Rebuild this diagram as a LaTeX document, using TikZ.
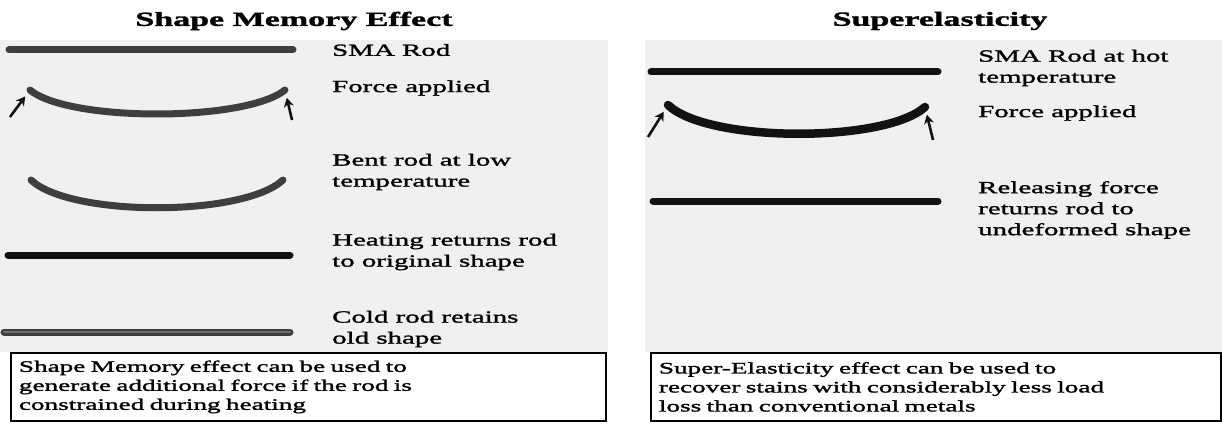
\documentclass[tikz,border=0pt]{standalone}
\usepackage{fontspec}
\setmainfont{Liberation Serif}[FakeStretch=1.7]
\newfontfamily\rodfont{Liberation Serif}[FakeStretch=1.7, FakeBold=1.6]
\usepackage{xcolor}
\usetikzlibrary{arrows.meta}
\definecolor{rodgray}{RGB}{62,62,62}
\definecolor{roddark}{RGB}{18,18,18}
\definecolor{coldcore}{RGB}{112,112,112}
\definecolor{panelbg}{RGB}{240,240,240}
\tikzset{
  rod/.style={line width=7pt, line cap=round, color=rodgray},
  rodhot/.style={rod, color=roddark},
  push/.style={-{Stealth[length=9pt,width=10pt]}, line width=2.6pt, color=roddark,
               shorten >=8pt},
  paneltitle/.style={font=\rodfont\bfseries\fontsize{20}{24}\selectfont, inner sep=0pt},
  rodlabel/.style={anchor=west, align=left, inner sep=0pt,
                   font=\rodfont\fontsize{17}{21}\selectfont},
  notebox/.style={draw=black, line width=1.8pt, fill=white, anchor=north west,
                  align=left, inner xsep=8pt, inner ysep=3pt,
                  font=\rodfont\fontsize{16}{19}\selectfont},
}
\begin{document}
\begin{tikzpicture}[x=1pt, y=-1pt]
  \useasboundingbox (0,0) rectangle (1222,425);
  % panel backgrounds
  \fill[panelbg] (0,40) rectangle (608,352);
  \fill[panelbg] (645,40) rectangle (1222,352);
  % titles
  \node[paneltitle] (smetitle) at (294,21) {Shape Memory Effect};
  \node[paneltitle] (setitle) at (940,21) {Superelasticity};

  % --- shape memory effect ---
  \coordinate (sma1) at (9,50);   \coordinate (sma2) at (293,50);
  \draw[rod] (sma1) -- (sma2);
  \node[rodlabel] (smalbl) at (332,50) {SMA Rod};
  % force applied
  \coordinate (fa1) at (30,90);   \coordinate (fa2) at (285,90);
  \draw[rod] (fa1) .. controls (68,122) and (245,122) .. (fa2);
  \coordinate (fa1t) at (10,117); \coordinate (fa2t) at (292,120);
  \draw[push] (fa1t) -- (fa1);
  \draw[push] (fa2t) -- (fa2);
  \node[rodlabel] (falbl) at (332,88) {Force applied};
  % bent rod
  \coordinate (bt1) at (31,180);  \coordinate (bt2) at (283,180);
  \draw[rod] (bt1) .. controls (70,217) and (243,217) .. (bt2);
  \node[rodlabel] (btlbl) at (332,172) {Bent rod at low\\temperature};
  % heating
  \coordinate (ht1) at (8,255);   \coordinate (ht2) at (290,255);
  \draw[rodhot] (ht1) -- (ht2);
  \node[rodlabel] (htlbl) at (332,252) {Heating returns rod\\to original shape};
  % cold rod
  \coordinate (cd1) at (4,332);   \coordinate (cd2) at (290,332);
  \draw[rod] (cd1) -- (cd2);
  \draw[line width=2.4pt, line cap=round, coldcore] (cd1) -- (cd2);
  \node[rodlabel] (cdlbl) at (332,329) {Cold rod retains\\old shape};
  % note
  \node[notebox, text width=579pt, minimum height=68pt] (smenote) at (10,352)
       {Shape Memory effect can be used to\\generate additional force if the rod is\\constrained during heating};

  % --- superelasticity ---
  \coordinate (hot1) at (651,72); \coordinate (hot2) at (938,72);
  \draw[rodhot] (hot1) -- (hot2);
  \node[rodlabel] (hotlbl) at (978,68) {SMA Rod at hot\\temperature};
  % force applied
  \coordinate (sf1) at (668,105); \coordinate (sf2) at (925,107);
  \draw[rodhot, line width=8.5pt] (sf1) .. controls (708,143) and (885,143) .. (sf2);
  \coordinate (sf1t) at (648,137); \coordinate (sf2t) at (933,140);
  \draw[push] (sf1t) -- (sf1);
  \draw[push] (sf2t) -- (sf2);
  \node[rodlabel] (sflbl) at (978,113) {Force applied};
  % released
  \coordinate (rl1) at (653,201); \coordinate (rl2) at (938,201);
  \draw[rodhot] (rl1) -- (rl2);
  \node[rodlabel] (rllbl) at (978,210) {Releasing force\\returns rod to\\undeformed shape};
  % note
  \node[notebox, text width=554pt, minimum height=68pt] (senote) at (650,352)
       {Super-Elasticity effect can be used to\\recover stains with considerably less load\\loss than conventional metals};
\end{tikzpicture}
\end{document}
